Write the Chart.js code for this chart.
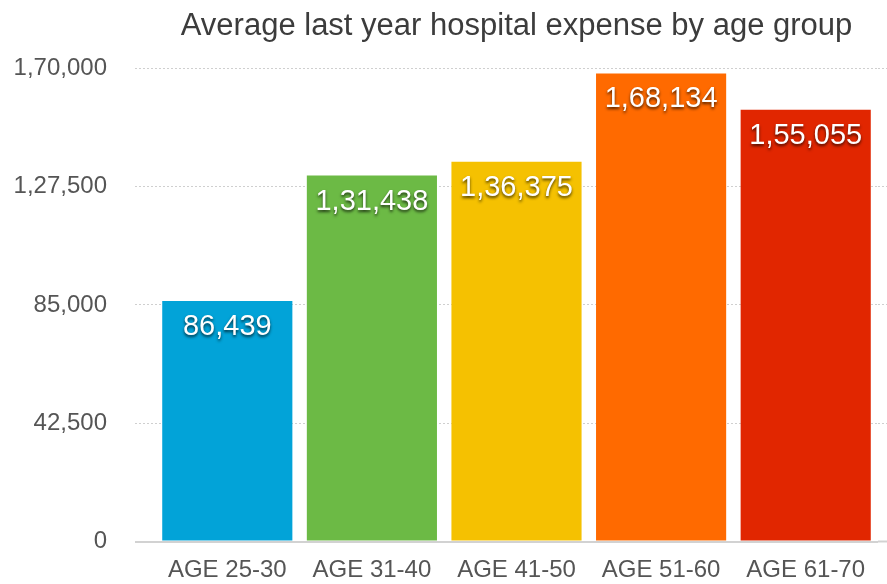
<!DOCTYPE html>
<html>
<head>
<meta charset="utf-8">
<title>Hospital expense by age group</title>
<script src="https://cdn.jsdelivr.net/npm/chart.js@4/dist/chart.umd.min.js"></script>
<style>
    html, body { margin: 0; padding: 0; background: #fff; }
    #wrap { width: 887px; height: 584px; position: relative; }
</style>
</head>
<body>
<div id="wrap"><canvas id="grafico"></canvas></div>
<script>
const ageGroups = ['AGE 25-30', 'AGE 31-40', 'AGE 41-50', 'AGE 51-60', 'AGE 61-70'];
const avgExpense = [86439, 131438, 136375, 168134, 155055];
const barColors = ['#02a3d8', '#6cba45', '#f5c101', '#ff6a00', '#e12600'];
const yTicks = [0, 42500, 85000, 127500, 170000];

const FONT = '"Liberation Sans", Arial, Helvetica, sans-serif';

// lakh-style grouping: 1,68,134
function inr(n) {
    const s = String(Math.round(n));
    if (s.length <= 3) return s;
    const rest = s.slice(0, -3).replace(/\B(?=(\d{2})+(?!\d))/g, ',');
    return rest + ',' + s.slice(-3);
}

const isBase = c => c.tick && c.tick.value === 0;
const gridColor = c => isBase(c) ? '#d2d2d2' : '#cfcfcf';
const gridWidth = c => isBase(c) ? 2 : 1;
const gridDash = c => isBase(c) ? [] : [2, 2];

// white value text near the top of each bar
const valueLabels = {
    id: 'valueLabels',
    afterDatasetsDraw(chart) {
        const ctx = chart.ctx;
        const meta = chart.getDatasetMeta(0);
        ctx.save();
        ctx.font = '29px ' + FONT;
        ctx.textAlign = 'center';
        ctx.textBaseline = 'alphabetic';
        ctx.fillStyle = '#ffffff';
        ctx.shadowColor = 'rgba(0,0,0,0.7)';
        ctx.shadowOffsetY = 2;
        ctx.shadowBlur = 3;
        meta.data.forEach((bar, i) => {
            ctx.fillText(inr(avgExpense[i]), bar.x, bar.y + 34);
        });
        ctx.restore();
    }
};

document.addEventListener("DOMContentLoaded", function () {
    const ctx = document.getElementById('grafico').getContext('2d');
    new Chart(ctx, {
        type: 'bar',
        data: {
            labels: ageGroups,
            datasets: [{
                label: 'Average expense',
                data: avgExpense,
                backgroundColor: barColors,
                borderWidth: 0,
                barPercentage: 0.9,
                categoryPercentage: 1
            }]
        },
        plugins: [valueLabels],
        options: {
            responsive: true,
            maintainAspectRatio: false,
            animation: false,
            events: [],
            layout: { padding: 0 },
            plugins: {
                legend: { display: false },
                tooltip: { enabled: false },
                title: {
                    display: true,
                    text: 'Average last year hospital expense by age group',
                    fullSize: false,
                    color: '#3c3c3c',
                    font: { family: FONT, size: 31, weight: 'normal' },
                    padding: { top: 8, bottom: 23 }
                }
            },
            scales: {
                x: {
                    afterFit(scale) { scale.height = 39; },
                    grid: { display: false, drawTicks: false },
                    border: { display: false },
                    ticks: {
                        color: '#555',
                        padding: 14,
                        font: { family: FONT, size: 24 }
                    }
                },
                y: {
                    min: 0,
                    max: 170000,
                    afterBuildTicks(scale) { scale.ticks = yTicks.map(v => ({ value: v })); },
                    afterFit(scale) { scale.width = 155; },
                    grid: {
                        color: gridColor,
                        lineWidth: gridWidth,
                        tickColor: gridColor,
                        tickWidth: gridWidth,
                        tickLength: 20,
                        tickBorderDash: gridDash
                    },
                    border: { display: false, dash: gridDash },
                    ticks: {
                        color: '#555',
                        padding: 28,
                        font: { family: FONT, size: 24 },
                        callback: v => inr(v)
                    }
                },
                // right-hand stub so the rules run out to the edge
                y2: {
                    position: 'right',
                    min: 0,
                    max: 170000,
                    afterBuildTicks(scale) { scale.ticks = yTicks.map(v => ({ value: v })); },
                    afterFit(scale) { scale.width = 9; },
                    grid: {
                        drawOnChartArea: false,
                        tickColor: gridColor,
                        tickWidth: gridWidth,
                        tickLength: 9,
                        tickBorderDash: gridDash
                    },
                    border: { display: false },
                    ticks: { display: false }
                }
            }
        }
    });
});
</script>
</body>
</html>
